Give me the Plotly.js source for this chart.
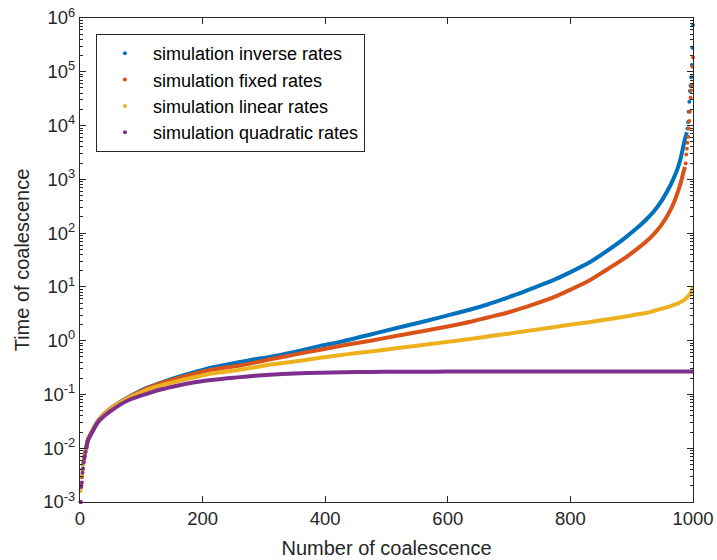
<!DOCTYPE html>
<html>
<head>
<meta charset="utf-8">
<script src="https://cdn.plot.ly/plotly-3.0.1.min.js"></script>
<style>html,body{margin:0;padding:0;background:#fff;}#chart{width:717px;height:560px;}</style>
</head>
<body>
<div id="chart"></div>
<script>
// ---- data ----
const seriesNames = ['simulation inverse rates', 'simulation fixed rates', 'simulation linear rates', 'simulation quadratic rates'];

const headX = [1, 2, 3, 4, 5, 6, 7, 8, 9];

// inverse rates
const inverseHeadT = [0.001, 0.002, 0.003, 0.004, 0.005, 0.006, 0.007, 0.008, 0.009];
const inverseX = [10, 13, 20, 29, 40, 51, 65, 78, 90, 106, 130, 160, 185, 214, 240, 261, 285, 310, 350, 392, 430, 474, 515, 556, 600, 637, 665, 692, 720, 746, 775, 801, 830, 855, 885, 910, 925, 937, 950, 964, 970, 975, 980, 986, 990];
const inverseT = [0.010, 0.0145, 0.021, 0.032, 0.044, 0.056, 0.072, 0.088, 0.104, 0.128, 0.163, 0.212, 0.258, 0.315, 0.36, 0.40, 0.45, 0.50, 0.62, 0.80, 0.98, 1.3, 1.7, 2.2, 2.95, 3.8, 4.7, 6.0, 7.8, 10.2, 13.8, 19, 28, 43, 75, 128, 185, 260, 420, 810, 1150, 1600, 2500, 5100, 7500];
const inverseTailX = [991, 992, 993, 994, 995, 996, 997, 998, 999, 1000];
const inverseTailT = [8800, 11700, 18000, 27600, 44000, 55000, 79000, 133000, 280000, 740000];

// fixed rates
const fixedHeadT = [0.001, 0.0021, 0.0029, 0.004, 0.0052, 0.006, 0.0071, 0.008, 0.009];
const fixedX = [10, 13, 20, 29, 40, 51, 65, 78, 90, 106, 130, 160, 185, 214, 240, 261, 285, 310, 350, 392, 430, 474, 515, 556, 600, 637, 665, 692, 720, 746, 775, 801, 830, 855, 885, 910, 925, 937, 950, 964, 970, 975, 980, 984, 987];
const fixedT = [0.010, 0.0145, 0.021, 0.032, 0.044, 0.056, 0.071, 0.087, 0.102, 0.125, 0.158, 0.200, 0.240, 0.288, 0.32, 0.345, 0.39, 0.45, 0.55, 0.68, 0.82, 1.0, 1.22, 1.48, 1.84, 2.25, 2.7, 3.2, 4.0, 5.0, 6.6, 9.0, 13, 19.5, 32, 52, 72, 98, 150, 280, 400, 570, 860, 1300, 1700];
const fixedTailX = [988, 989, 990, 991, 992, 993, 994, 995, 996, 997, 998, 999, 1000];
const fixedTailT = [1970, 2900, 3700, 4800, 6200, 8800, 12200, 18000, 33000, 45000, 55000, 124000, 185000];

// linear rates
const linearHeadT = [0.0016, 0.0019, 0.0031, 0.0038, 0.005, 0.0062, 0.007, 0.0079, 0.0091];
const linearX = [10, 13, 20, 29, 40, 51, 65, 78, 90, 106, 130, 160, 185, 214, 240, 261, 285, 310, 350, 392, 430, 474, 515, 556, 600, 637, 665, 692, 720, 746, 775, 801, 830, 855, 885, 910, 925, 937, 950, 964, 970, 975, 980, 986, 991, 994, 996, 998, 999, 1000];
const linearT = [0.010, 0.0143, 0.021, 0.031, 0.043, 0.055, 0.070, 0.085, 0.098, 0.118, 0.145, 0.178, 0.207, 0.245, 0.268, 0.288, 0.32, 0.36, 0.41, 0.48, 0.55, 0.63, 0.72, 0.82, 0.95, 1.08, 1.2, 1.32, 1.46, 1.62, 1.8, 2.0, 2.2, 2.45, 2.75, 3.09, 3.3, 3.6, 3.95, 4.4, 4.7, 4.9, 5.25, 5.75, 6.5, 7.0, 7.6, 8.4, 9.1, 10.0];

// quadratic rates
const quadHeadT = [0.001, 0.0019, 0.0023, 0.0035, 0.0042, 0.0055, 0.0065, 0.0072, 0.0085];
const quadX = [10, 13, 20, 29, 40, 51, 65, 78, 90, 106, 130, 160, 185, 214, 240, 261, 285, 310, 350, 392, 430, 474, 515, 556, 600, 700, 800, 900, 1000];
const quadT = [0.0095, 0.014, 0.020, 0.030, 0.040, 0.050, 0.064, 0.077, 0.087, 0.100, 0.122, 0.147, 0.167, 0.185, 0.200, 0.210, 0.222, 0.233, 0.245, 0.254, 0.259, 0.262, 0.264, 0.265, 0.266, 0.267, 0.267, 0.267, 0.268];

const yTickVals = [1e-3, 1e-2, 1e-1, 1e0, 1e1, 1e2, 1e3, 1e4, 1e5, 1e6];
const yTickText = ['10<sup>-3</sup>', '10<sup>-2</sup>', '10<sup>-1</sup>', '10<sup>0</sup>', '10<sup>1</sup>', '10<sup>2</sup>', '10<sup>3</sup>', '10<sup>4</sup>', '10<sup>5</sup>', '10<sup>6</sup>'];
const xTickVals = [0, 200, 400, 600, 800, 1000];

const colors = ['#0072BD', '#D95319', '#EDB120', '#7E2F8E'];

// ---- build traces ----
const groups = [
  {body: [inverseX, inverseT], sparse: [headX.concat(inverseTailX), inverseHeadT.concat(inverseTailT)]},
  {body: [fixedX, fixedT], sparse: [headX.concat(fixedTailX), fixedHeadT.concat(fixedTailT)]},
  {body: [linearX, linearT], sparse: [headX, linearHeadT]},
  {body: [quadX, quadT], sparse: [headX, quadHeadT]}
];

const traces = [];
groups.forEach((g, i) => {
  traces.push({
    x: g.body[0], y: g.body[1], type: 'scatter', mode: 'lines',
    line: {color: colors[i], width: 4, shape: 'spline', smoothing: 0.6}, showlegend: false, legendgroup: 'g' + i,
    hoverinfo: 'skip'
  });
  traces.push({
    x: g.sparse[0], y: g.sparse[1], type: 'scatter', mode: 'markers', cliponaxis: false,
    marker: {color: colors[i], size: 4}, name: seriesNames[i], legendgroup: 'g' + i
  });
});

const minorVals = [];
for (let e = -3; e < 6; e++) {
  for (let m = 2; m <= 9; m++) minorVals.push(m * Math.pow(10, e));
}

const axisColor = '#262626';
const layout = {
  width: 717, height: 560,
  margin: {l: 80, r: 24, t: 18, b: 58},
  paper_bgcolor: '#ffffff', plot_bgcolor: '#ffffff',
  font: {family: 'Liberation Sans, Arial, sans-serif', color: axisColor},
  showlegend: true,
  legend: {
    x: 0.026, y: 0.967, xanchor: 'left', yanchor: 'top',
    bgcolor: '#ffffff', bordercolor: axisColor, borderwidth: 1,
    font: {size: 18, color: '#000000'},
    itemwidth: 46, traceorder: 'grouped', tracegroupgap: 0
  },
  xaxis: {
    type: 'linear', range: [0, 1000],
    tickmode: 'array', tickvals: xTickVals,
    ticks: 'inside', ticklen: 6, tickcolor: axisColor, tickwidth: 1,
    showline: true, linecolor: axisColor, linewidth: 1, mirror: 'ticks',
    showgrid: false, zeroline: false,
    tickfont: {size: 18.5, color: axisColor},
    title: {text: 'Number of coalescence', font: {size: 20, color: axisColor}, standoff: 12}
  },
  yaxis: {
    type: 'log', range: [-3, 6],
    tickmode: 'array', tickvals: yTickVals, ticktext: yTickText,
    ticks: 'inside', ticklen: 6, tickcolor: axisColor, tickwidth: 1,
    minor: {tickmode: 'array', tickvals: minorVals, ticks: 'inside', ticklen: 3, tickcolor: axisColor, showgrid: false},
    showline: true, linecolor: axisColor, linewidth: 1, mirror: 'ticks',
    showgrid: false, zeroline: false,
    tickfont: {size: 18.5, color: axisColor},
    title: {text: 'Time of coalescence', font: {size: 20, color: axisColor}, standoff: 8}
  }
};

Plotly.newPlot('chart', traces, layout, {displayModeBar: false, staticPlot: true});
</script>
</body>
</html>
